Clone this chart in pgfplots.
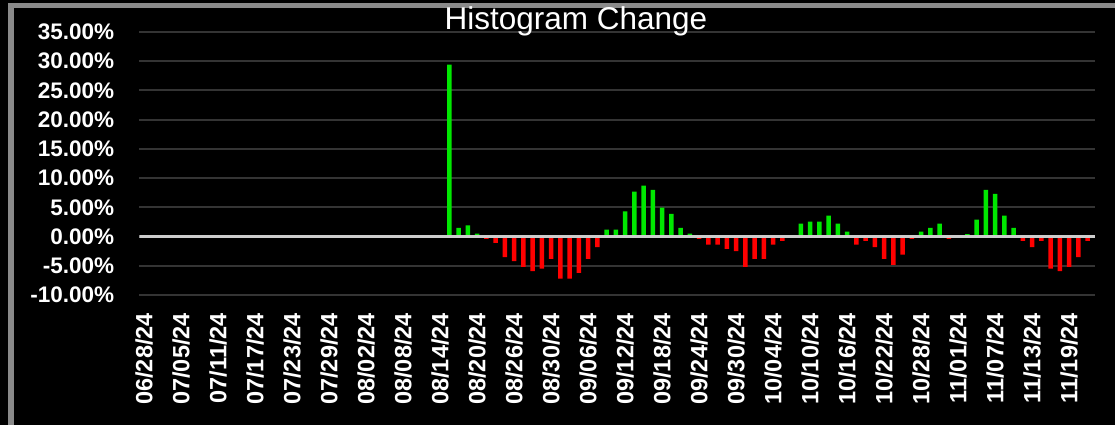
\documentclass[border=0pt]{standalone}
\usepackage{pgfplots}
\pgfplotsset{compat=1.18}
\usepackage{pgfplotstable}
\usepackage{fontspec}
\setmainfont{Liberation Sans}
\definecolor{barGreen}{RGB}{0,232,0}
\definecolor{barRed}{RGB}{255,0,0}
\definecolor{gridc}{RGB}{52,52,52}
\definecolor{zeroc}{RGB}{205,205,205}
\definecolor{framec}{RGB}{138,138,138}

\pgfplotstableread{
idx val
33 29.4
34 1.5
35 1.9
36 0.5
50 1.2
51 1.2
52 4.3
53 7.7
54 8.7
55 8.0
56 4.95
57 3.9
58 1.5
59 0.5
71 2.2
72 2.55
73 2.55
74 3.6
75 2.2
76 0.85
84 0.85
85 1.5
86 2.2
89 0.4
90 2.9
91 8.0
92 7.3
93 3.6
94 1.5
}\posdata

\pgfplotstableread{
idx val
37 -0.4
38 -1.1
39 -3.5
40 -4.2
41 -5.2
42 -5.9
43 -5.5
44 -3.8
45 -7.2
46 -7.2
47 -6.2
48 -3.8
49 -1.8
60 -0.4
61 -1.4
62 -1.4
63 -2.1
64 -2.5
65 -5.2
66 -3.8
67 -3.8
68 -1.4
69 -0.75
70 -0.15
77 -1.4
78 -0.75
79 -1.8
80 -3.8
81 -4.85
82 -3.1
83 -0.4
87 -0.4
88 -0.15
95 -0.75
96 -1.8
97 -0.75
98 -5.5
99 -5.9
100 -5.2
101 -3.5
102 -0.75
}\negdata

\begin{document}
\begin{tikzpicture}
\useasboundingbox (0,0) rectangle (1115bp,425bp);
\fill[black] (0,0) rectangle (1115bp,425bp);
\fill[framec] (8bp,0) rectangle (14bp,422bp);
\fill[framec] (8bp,417bp) rectangle (1115bp,422bp);
\begin{axis}[
  at={(139.4bp,130bp)}, anchor=south west,
  scale only axis, width=955.5bp, height=263bp,
  xmin=-0.5, xmax=102.8, ymin=-10, ymax=35,
  axis line style={draw=none},
  major tick length=0pt,
  ytick={-10,-5,0,5,10,15,20,25,30,35},
  ymajorgrids, grid style={gridc, line width=2bp},
  xtick={0,4,...,100},
  xticklabels={06/28/24,07/05/24,07/11/24,07/17/24,07/23/24,07/29/24,08/02/24,08/08/24,08/14/24,08/20/24,08/26/24,08/30/24,09/06/24,09/12/24,09/18/24,09/24/24,09/30/24,10/04/24,10/10/24,10/16/24,10/22/24,10/28/24,11/01/24,11/07/24,11/13/24,11/19/24},
  /pgf/number format/assume math mode=true,
  ticklabel style={text=white},
  yticklabel={\pgfmathprintnumber[fixed,fixed zerofill,precision=2]{\tick}\%},
  yticklabel style={font=\fontsize{22.5bp}{26bp}\selectfont\bfseries, anchor=east, inner sep=0pt, xshift=-25bp},
  xticklabel style={font=\fontsize{23.5bp}{27bp}\selectfont\bfseries, rotate=90, anchor=east, inner sep=0pt},
  xticklabel shift=18bp,
]
\addplot[ybar, bar width=4.5bp, bar shift=0pt, fill=barGreen, draw=none] table[x=idx, y=val] {\posdata};
\addplot[ybar, bar width=4.5bp, bar shift=0pt, fill=barRed, draw=none] table[x=idx, y=val] {\negdata};
\draw[zeroc, line width=2.2bp] (axis cs:-0.5,0) -- (axis cs:102.8,0);
\end{axis}
\node[text=white, font=\fontsize{31.5bp}{35bp}\selectfont, anchor=base] at (576bp,395bp) {Histogram Change};
\end{tikzpicture}
\end{document}
